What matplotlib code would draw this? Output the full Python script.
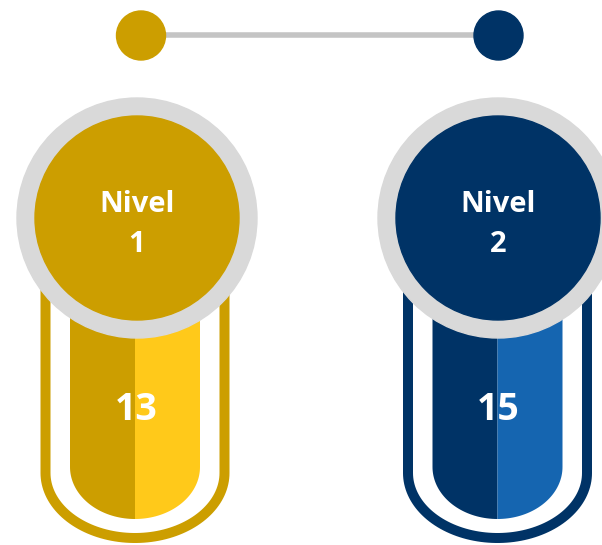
import numpy as np
import matplotlib.pyplot as plt
from matplotlib.patches import Circle, PathPatch
from matplotlib.path import Path

# Datos
niveles = ['Nivel\n1', 'Nivel\n2']
valores = [13, 15]
color_oscuro = ['#CC9E00', '#003366']
color_claro = ['#FFC91A', '#1565B0']

# Posiciones en pixeles
centros_circulo = [137, 498]
centros_pildora = [135, 497.5]
centros_punto = [141, 498.5]


def pildora(cx, medio_ancho, y_top, y_recto, y_fondo, lado=None):
    # contorno de una pildora con fondo eliptico (y hacia abajo)
    ry = y_fondo - y_recto
    t = np.linspace(np.pi, 0, 80)
    if lado == 'izq':
        t = np.linspace(np.pi, np.pi / 2, 40)
    elif lado == 'der':
        t = np.linspace(np.pi / 2, 0, 40)
    xs = cx + medio_ancho * np.cos(t)
    ys = y_recto + ry * np.sin(t)
    if lado == 'izq':
        pts = [(cx - medio_ancho, y_top)] + list(zip(xs, ys)) + [(cx, y_top)]
    elif lado == 'der':
        pts = [(cx, y_top)] + list(zip(xs, ys)) + [(cx + medio_ancho, y_top)]
    else:
        pts = [(cx - medio_ancho, y_top)] + list(zip(xs, ys)) + [(cx + medio_ancho, y_top)]
    return pts


fig = plt.figure(figsize=(6.02, 5.45), dpi=100)
ax = fig.add_axes([0, 0, 1, 1])
ax.set_xlim(0, 602)
ax.set_ylim(545, 0)
ax.axis('off')

# Linea superior y puntos
ax.plot(centros_punto, [35, 35], color='#C4C4C4', lw=4, solid_capstyle='butt', zorder=1)
for x, c in zip(centros_punto, color_oscuro):
    ax.add_patch(Circle((x, 35.5), 24.5, color=c, zorder=2))

for i in range(len(niveles)):
    cp = centros_pildora[i]
    # contorno exterior
    pts = pildora(cp, 89.5, 250, 473, 538)
    ax.add_patch(PathPatch(Path(pts), facecolor='none', edgecolor=color_oscuro[i],
                           lw=7.2, zorder=3))
    # relleno en dos mitades
    ax.add_patch(PathPatch(Path(pildora(cp, 65, 250, 467, 519, 'izq') + [(cp - 65, 250)], closed=False),
                           facecolor=color_oscuro[i], edgecolor='none', zorder=4))
    ax.add_patch(PathPatch(Path(pildora(cp, 65, 250, 467, 519, 'der') + [(cp, 250)], closed=False),
                           facecolor=color_claro[i], edgecolor='none', zorder=4))
    # circulo con aro gris
    cc = centros_circulo[i]
    ax.add_patch(Circle((cc, 218), 120, color='#D9D9D9', zorder=5))
    ax.add_patch(Circle((cc, 218), 102, color=color_oscuro[i], zorder=6))
    ax.text(cc, 225, niveles[i], ha='center', va='center', color='white',
            fontsize=21, fontweight='bold', family='Open Sans', linespacing=1.5, zorder=7)
    ax.text(cp + 1, 410, str(valores[i]), ha='center', va='center', color='white',
            fontsize=27, fontweight='bold', family='Open Sans', zorder=7)

plt.savefig('out.png', dpi=100)
